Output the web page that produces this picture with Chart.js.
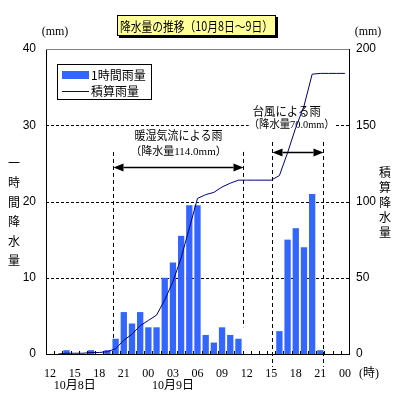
<!DOCTYPE html>
<html>
<head>
<meta charset="utf-8">
<script src="https://cdn.jsdelivr.net/npm/chart.js@4.4.1/dist/chart.umd.min.js"></script>
<style>
  html, body { margin: 0; padding: 0; background: #fff; }
</style>
</head>
<body>
<canvas id="rainChart" width="399" height="399"></canvas>
<script>
// ===== DATA =====
const hourLabels = [
  "12", "13", "14", "15", "16", "17", "18", "19", "20", "21", "22", "23",
  "00", "01", "02", "03", "04", "05", "06", "07", "08", "09", "10", "11",
  "12", "13", "14", "15", "16", "17", "18", "19", "20", "21", "22", "23",
  "00"
];

// 1時間雨量 (mm)
const hourlyRain = [
  0, 0, 0.5, 0, 0, 0.5, 0, 0.5, 2, 5.5, 4, 5.5,
  3.5, 3.5, 10, 12, 15.5, 19.5, 19.5, 2.5, 1.5, 3.5, 2.5, 2,
  0, 0, 0, 0, 3, 15, 16.5, 14, 21, 0.5, 0, 0,
  0
];

// 積算雨量 (mm)
const totalRain = [
  null, 0, 0.5, 0.5, 0.5, 1, 1, 1.5, 3.5, 9, 13, 18.5,
  22, 25.5, 35.5, 47.5, 63, 82.5, 102, 104.5, 106, 109.5, 112, 114,
  114, 114, 114, 114, 117, 132, 148.5, 162.5, 183.5, 184, 184, 184,
  184
];

const dayLabels = ["10月8日", "10月9日"];
const dayLabelIndex = [3, 15];

const BAR_BLUE = "#3366FF";
const LINE_NAVY = "#000080";
const JP_FONT = '"Noto Sans CJK JP", "Noto Sans", sans-serif';

/* =========================
   HELPERS
========================= */
function dashedLine(ctx, x1, y1, x2, y2, dash) {
  ctx.save();
  ctx.strokeStyle = "#000";
  ctx.lineWidth = 1;
  ctx.setLineDash(dash);
  ctx.beginPath();
  ctx.moveTo(x1, y1);
  ctx.lineTo(x2, y2);
  ctx.stroke();
  ctx.restore();
}

function doubleArrow(ctx, x1, x2, y) {
  const head = 10, half = 4;
  ctx.save();
  ctx.strokeStyle = "#000";
  ctx.fillStyle = "#000";
  ctx.lineWidth = 1.5;
  ctx.beginPath();
  ctx.moveTo(x1 + head, y);
  ctx.lineTo(x2 - head, y);
  ctx.stroke();
  ctx.beginPath();
  ctx.moveTo(x1, y);
  ctx.lineTo(x1 + head, y - half);
  ctx.lineTo(x1 + head, y + half);
  ctx.closePath();
  ctx.fill();
  ctx.beginPath();
  ctx.moveTo(x2, y);
  ctx.lineTo(x2 - head, y - half);
  ctx.lineTo(x2 - head, y + half);
  ctx.closePath();
  ctx.fill();
  ctx.restore();
}

function verticalText(ctx, text, x, yStart, step) {
  [...text].forEach((ch, i) => {
    ctx.fillText(ch, x, yStart + i * step);
  });
}

/* =========================
   DECORATION PLUGIN
========================= */
const decor = {
  id: "decor",
  beforeDatasetsDraw(chart) {
    const { ctx, chartArea: a, scales } = chart;
    const y = scales.y;
    const x = scales.x;
    ctx.save();

    // gray top frame
    ctx.strokeStyle = "#808080";
    ctx.lineWidth = 1;
    ctx.beginPath();
    ctx.moveTo(a.left, a.top + 0.5);
    ctx.lineTo(a.right, a.top + 0.5);
    ctx.stroke();

    // dashed horizontal grid
    y.ticks.forEach(t => {
      if (t.value <= y.min || t.value >= y.max) return;
      const py = Math.round(y.getPixelForValue(t.value)) + 0.5;
      dashedLine(ctx, a.left, py, a.right, py, [3, 2]);
    });

    // typhoon label (white box, line passes over it)
    ctx.font = "12px " + JP_FONT;
    ctx.textAlign = "center";
    ctx.textBaseline = "middle";
    ctx.fillStyle = "#000";
    ctx.fillText("台風による雨", x.getPixelForValue(28.9), y.getPixelForValue(31.8), 68);
    const tx = x.getPixelForValue(29.5);
    const ty = y.getPixelForValue(30.0);
    ctx.fillStyle = "#fff";
    ctx.fillRect(tx - 43, ty - 7, 86, 14);
    ctx.fillStyle = "#000";
    ctx.font = '11px "Liberation Serif", ' + JP_FONT;
    ctx.fillText("（降水量70.0mm）", tx, ty, 86);
    ctx.restore();
  },

  afterDatasetsDraw(chart) {
    const { ctx, chartArea: a, scales } = chart;
    const x = scales.x;
    const y = scales.y;
    ctx.save();

    // inner tick marks on the time axis
    ctx.strokeStyle = "#000";
    ctx.lineWidth = 1;
    ctx.beginPath();
    for (let i = 1; i < hourLabels.length; i++) {
      const px = Math.round(x.getPixelForValue(i - 0.5)) + 0.5;
      ctx.moveTo(px, a.bottom);
      ctx.lineTo(px, a.bottom - 3);
    }
    ctx.stroke();

    // 暖湿気流 period
    const w1 = Math.round(x.getPixelForValue(7.64)) + 0.5;
    const w2 = Math.round(x.getPixelForValue(23.6)) + 0.5;
    dashedLine(ctx, w1, y.getPixelForValue(26.5), w1, y.getPixelForValue(2.1), [4, 3]);
    dashedLine(ctx, w2, y.getPixelForValue(26.5), w2, y.getPixelForValue(3.5), [4, 3]);
    doubleArrow(ctx, w1, w2, Math.round(y.getPixelForValue(24.5)) + 0.5);

    // 台風 period
    const t1 = Math.round(x.getPixelForValue(27.13)) + 0.5;
    const t2 = Math.round(x.getPixelForValue(33.36)) + 0.5;
    dashedLine(ctx, t1, y.getPixelForValue(27.8), t1, y.getPixelForValue(-1.7), [4, 3]);
    dashedLine(ctx, t2, y.getPixelForValue(27.8), t2, y.getPixelForValue(-1.7), [4, 3]);
    doubleArrow(ctx, t1, t2, Math.round(y.getPixelForValue(26.5)) + 0.5);

    // 暖湿気流 label
    ctx.fillStyle = "#000";
    ctx.textAlign = "center";
    ctx.textBaseline = "middle";
    ctx.font = "12px " + JP_FONT;
    const cx = (w1 + w2) / 2;
    ctx.fillText("暖湿気流による雨", cx, y.getPixelForValue(28.6), 88);
    ctx.font = '11px "Liberation Serif", ' + JP_FONT;
    ctx.fillText("（降水量114.0mm）", cx, y.getPixelForValue(26.5), 98);
    ctx.restore();
  },

  afterDraw(chart) {
    const { ctx, scales } = chart;
    const x = scales.x;
    ctx.save();
    ctx.fillStyle = "#000";
    ctx.textAlign = "center";
    ctx.textBaseline = "middle";

    // title box
    const bx = 117, by = 15, bw = 159, bh = 21;
    ctx.fillStyle = "#000";
    ctx.fillRect(bx + 2, by + 2, bw, bh);
    ctx.fillStyle = "#FFFF99";
    ctx.fillRect(bx, by, bw, bh);
    ctx.strokeStyle = "#000";
    ctx.lineWidth = 1;
    ctx.strokeRect(bx + 0.5, by + 0.5, bw - 1, bh - 1);
    ctx.fillStyle = "#000";
    ctx.font = "13px " + JP_FONT;
    ctx.fillText("降水量の推移（10月8日～9日）", bx + bw / 2, by + bh / 2 + 1, bw - 6);

    // units
    ctx.font = '12px "Liberation Serif", serif';
    ctx.fillText("(mm)", 55, 32);
    ctx.fillText("(mm)", 368, 32);
    ctx.font = '12px "Liberation Serif", ' + JP_FONT;
    ctx.fillText("(時)", 369, 374);

    // vertical axis titles
    ctx.font = "12px " + JP_FONT;
    verticalText(ctx, "一時間降水量", 14, 163, 19.5);
    verticalText(ctx, "積算降水量", 385, 172, 15);

    // day labels under the time axis
    ctx.font = '12px "Liberation Serif", ' + JP_FONT;
    dayLabels.forEach((d, i) => {
      ctx.fillText(d, x.getPixelForValue(dayLabelIndex[i]), 386);
    });

    // legend
    const lx = 57, ly = 64, lw = 94, lh = 35;
    ctx.fillStyle = "#fff";
    ctx.fillRect(lx, ly, lw, lh);
    ctx.strokeStyle = "#000";
    ctx.strokeRect(lx + 0.5, ly + 0.5, lw, lh);
    ctx.fillStyle = BAR_BLUE;
    ctx.fillRect(62, 71, 27, 8);
    ctx.strokeStyle = LINE_NAVY;
    ctx.beginPath();
    ctx.moveTo(62, 91.5);
    ctx.lineTo(89, 91.5);
    ctx.stroke();
    ctx.fillStyle = "#000";
    ctx.textAlign = "left";
    ctx.font = "12px " + JP_FONT;
    ctx.fillText("1時間雨量", 91, 75, 58);
    ctx.fillText("積算雨量", 91, 91, 52);

    ctx.restore();
  }
};

/* =========================
   CHART
========================= */
const ctx = document.getElementById("rainChart").getContext("2d");

new Chart(ctx, {
  data: {
    labels: hourLabels,
    datasets: [
      {
        type: "line",
        label: "積算雨量",
        data: totalRain,
        yAxisID: "y1",
        borderColor: LINE_NAVY,
        borderWidth: 1,
        pointRadius: 0,
        tension: 0,
        fill: false,
        order: 0
      },
      {
        type: "bar",
        label: "1時間雨量",
        data: hourlyRain,
        yAxisID: "y",
        backgroundColor: BAR_BLUE,
        borderWidth: 0,
        categoryPercentage: 1,
        barPercentage: 0.77,
        order: 1
      }
    ]
  },
  options: {
    responsive: false,
    animation: false,
    layout: { padding: { top: 49, left: 0, right: 0, bottom: 0 } },
    plugins: {
      legend: { display: false },
      tooltip: { enabled: false },
      title: { display: false }
    },
    scales: {
      x: {
        type: "category",
        offset: true,
        grid: { display: false, drawTicks: false },
        border: { display: true, color: "#000", width: 1 },
        ticks: {
          autoSkip: false,
          maxRotation: 0,
          padding: 13,
          color: "#000",
          font: { family: "Liberation Serif", size: 12 },
          callback: function (value, index) {
            return index % 3 === 0 ? this.getLabelForValue(value) : "";
          }
        },
        afterFit: s => { s.height = 45; }
      },
      y: {
        position: "left",
        min: 0,
        max: 40,
        grid: { display: false, drawTicks: false },
        border: { display: true, color: "#000", width: 1 },
        ticks: {
          stepSize: 10,
          padding: 10,
          color: "#000",
          font: { family: "Liberation Sans", size: 12 }
        },
        afterFit: s => { s.width = 46; }
      },
      y1: {
        position: "right",
        min: 0,
        max: 200,
        grid: { display: false, drawTicks: false },
        border: { display: true, color: "#000", width: 1 },
        ticks: {
          stepSize: 50,
          padding: 7,
          color: "#000",
          font: { family: "Liberation Sans", size: 12 }
        },
        afterFit: s => { s.width = 50; }
      }
    }
  },
  plugins: [decor]
});
</script>
</body>
</html>
